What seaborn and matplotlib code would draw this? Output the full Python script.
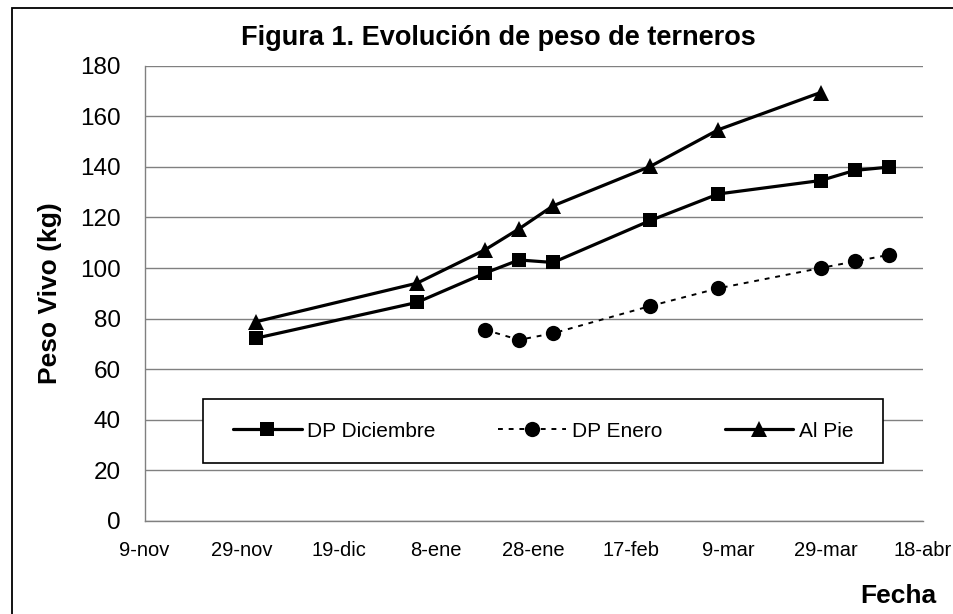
import matplotlib
matplotlib.use("Agg")
import matplotlib.pyplot as plt
import matplotlib.patches as mpatches
import seaborn as sns
import pandas as pd

# fechas de pesada (campaña 2002-2003)
fechas = ["2002-12-02", "2003-01-04", "2003-01-18", "2003-01-25", "2003-02-01",
          "2003-02-21", "2003-03-07", "2003-03-28", "2003-04-04", "2003-04-11"]
dp_diciembre = [72.3, 86.4, 98.0, 103.2, 102.2, 118.8, 129.3, 134.6, 138.6, 139.9]
fechas_enero = fechas[2:]
dp_enero = [75.6, 71.6, 74.2, 85.0, 92.0, 100.0, 102.6, 105.2]
fechas_pie = fechas[:8]
al_pie = [78.8, 94.0, 107.2, 115.5, 124.6, 140.2, 154.7, 169.4]

x_ticks = pd.date_range("2002-11-09", periods=9, freq="20D")
x_labels = ["9-nov", "29-nov", "19-dic", "8-ene", "28-ene", "17-feb", "9-mar", "29-mar", "18-abr"]
y_ticks = list(range(0, 181, 20))

sns.set_style("white")
plt.rcParams["font.family"] = ["Liberation Sans", "DejaVu Sans"]
plt.rcParams["text.color"] = "black"
plt.rcParams["axes.labelcolor"] = "black"

fig, ax = plt.subplots(figsize=(9.54, 6.14), dpi=100)
fig.subplots_adjust(left=0.1515, right=0.9672, bottom=0.1515, top=0.893)

sns.lineplot(x=pd.to_datetime(fechas), y=dp_diciembre, ax=ax, color="black",
             linewidth=2.3, marker="s", markersize=10.5, markeredgewidth=0,
             label="DP Diciembre")
sns.lineplot(x=pd.to_datetime(fechas_enero), y=dp_enero, ax=ax, color="black",
             linewidth=1.4, linestyle=(0, (2.5, 3)), marker="o", markersize=11,
             markeredgewidth=0, label="DP Enero")
sns.lineplot(x=pd.to_datetime(fechas_pie), y=al_pie, ax=ax, color="black",
             linewidth=2.3, marker="^", markersize=12, markeredgewidth=0,
             label="Al Pie")

ax.set_xlim(x_ticks[0], x_ticks[-1])
ax.set_ylim(0, 180)
ax.set_xticks(x_ticks)
ax.set_xticklabels(x_labels)
ax.set_yticks(y_ticks)
ax.tick_params(axis="x", labelsize=14.5, length=4.5, width=1, color="#808080",
               labelcolor="black", pad=10, direction="out")
ax.tick_params(axis="y", labelsize=17.5, length=6, width=1, color="#808080",
               labelcolor="black", pad=11, direction="out")
ax.yaxis.grid(True, color="#808080", linewidth=1)
ax.set_axisbelow(True)
for s in ["top", "right"]:
    ax.spines[s].set_visible(False)
for s in ["left", "bottom"]:
    ax.spines[s].set_color("#808080")
    ax.spines[s].set_linewidth(1)

ax.set_xlabel("")
ax.set_ylabel("Peso Vivo (kg)", fontsize=19, fontweight="bold")
ax.yaxis.set_label_coords(-0.106, 0.5)

# caja de la leyenda
ax.add_patch(mpatches.Rectangle((0.0752, 0.127), 0.8738, 0.141, transform=ax.transAxes,
                                facecolor="white", edgecolor="black", linewidth=1.2, zorder=3))
leg = ax.legend(loc="center", bbox_to_anchor=(0.512, 0.1975), ncol=3, frameon=False,
                fontsize=15, handlelength=3.3, handletextpad=0.25, columnspacing=3.0)
leg.set_zorder(4)
for t in leg.get_texts():
    t.set_color("black")

fig.text(498 / 954, 1 - 38 / 614, "Figura 1. Evolución de peso de terneros",
         ha="center", va="center", fontsize=19.5, fontweight="bold", color="black")
fig.text(898 / 954, 1 - 596 / 614, "Fecha", ha="center", va="center",
         fontsize=19, fontweight="bold", color="black")

# marco del gráfico
fig.add_artist(mpatches.Rectangle((12 / 954, -0.1), 1.2, 1.1 - 8 / 614,
                                  transform=fig.transFigure, fill=False,
                                  edgecolor="black", linewidth=1.3))

fig.savefig("out.png", dpi=100)
plt.close(fig)
